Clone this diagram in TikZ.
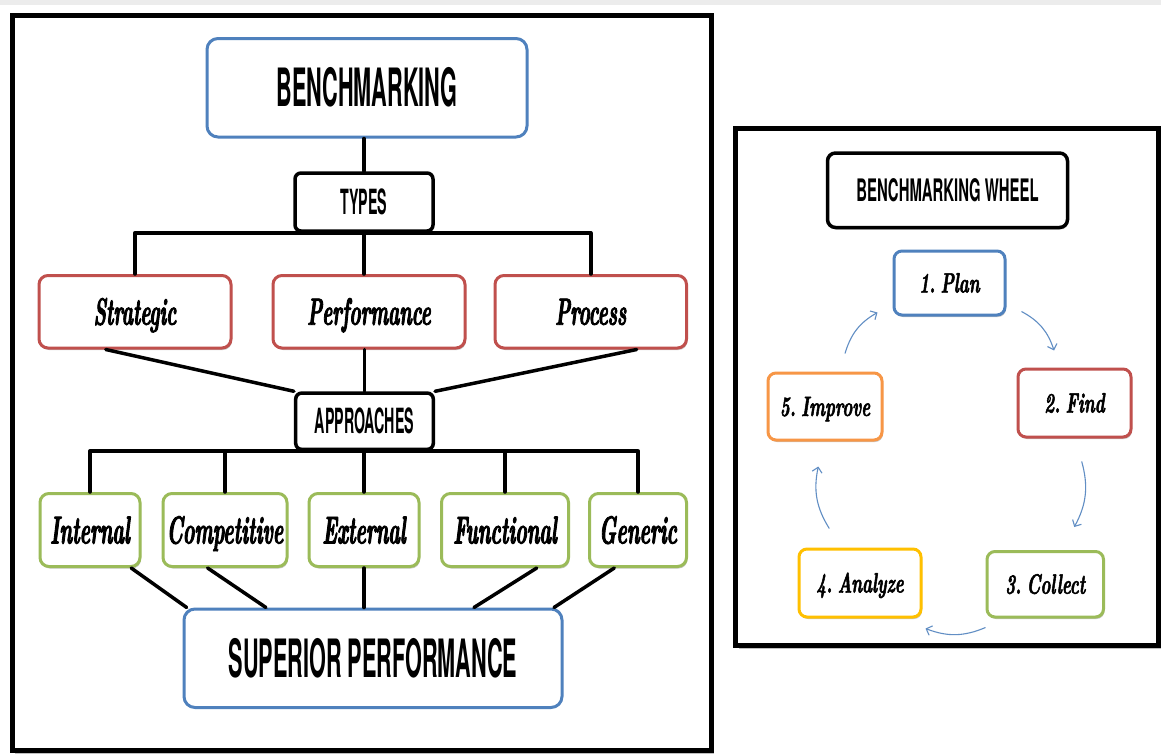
\documentclass[tikz,border=0pt]{standalone}
\usepackage{fontspec}
\usetikzlibrary{calc,arrows.meta,shadows}
\newfontfamily\headfont[FakeStretch=0.41]{TeX Gyre Heros}
\newfontfamily\lblfont[FakeStretch=0.5, FakeBold=2.2]{lmroman10-bolditalic.otf}
\newfontfamily\whlfont[FakeStretch=0.6, FakeBold=1.8, WordSpace=0.45]{lmroman10-bolditalic.otf}

\definecolor{cblue}{HTML}{4F81BD}
\definecolor{cred}{HTML}{C0504D}
\definecolor{cgreen}{HTML}{9BBB59}
\definecolor{corange}{HTML}{F79646}
\definecolor{cyellow}{HTML}{FFC000}
\definecolor{bandgray}{HTML}{ECECEC}

\tikzset{
  frame/.style={draw=black, line width=5pt, fill=white,
    drop shadow={shadow xshift=3pt, shadow yshift=-3pt, opacity=0.25, fill=black}},
  conn/.style={draw=black, line width=3.5pt, line join=round, line cap=round},
  box/.style={rectangle, rounded corners=9pt, fill=white, line width=3pt,
    inner sep=0pt, align=center, text depth=0pt},
  softshadow/.style={drop shadow={shadow xshift=1pt, shadow yshift=-2pt, opacity=0.22, fill=black}},
  bigbox/.style={box, draw=cblue, rounded corners=11pt, text height=38pt,
    font=\headfont\bfseries\fontsize{52.8}{56}\selectfont},
  midbox/.style={box, draw=black, line width=3.5pt, rounded corners=6pt, text height=25pt,
    font=\headfont\bfseries\fontsize{34.7}{38}\selectfont},
  typebox/.style={box, draw=cred, softshadow, minimum height=72.5pt, text height=26pt,
    font=\lblfont\fontsize{38}{40}\selectfont},
  apprbox/.style={box, draw=cgreen, softshadow, minimum height=73pt, text height=27pt,
    font=\lblfont\fontsize{39}{41}\selectfont},
  wheelbox/.style={box, softshadow, rounded corners=8pt, text height=19pt,
    font=\whlfont\fontsize{28}{30}\selectfont},
  cycle/.style={draw=cblue!90, line width=1.1pt, bend left=22,
    -{Straight Barb[length=5pt, width=10pt, line width=1.1pt]}}
}

\begin{document}
\begin{tikzpicture}[x=1pt, y=-1pt]
  \useasboundingbox (0,0) rectangle (1161,755);
  \fill[white] (0,0) rectangle (1161,755);
  \fill[bandgray] (0,0) rectangle (1161,5);

  % ---------- left panel: types and approaches ----------
  \path[frame] (12,15) rectangle (711,750.5);

  \node[bigbox, minimum width=320pt, minimum height=98.5pt] (bench) at (367,87.75) {BENCHMARKING};
  \node[midbox, minimum width=138pt, minimum height=58pt] (types) at (364,202) {TYPES};

  \node[typebox, minimum width=192pt] (strategic) at (135,311.75) {Strategic};
  \node[typebox, minimum width=192pt] (performance) at (369,311.75) {Performance};
  \node[typebox, minimum width=191.5pt] (process) at (590.75,311.75) {Process};

  \node[midbox, minimum width=137.6pt, minimum height=56.3pt] (approaches) at (364.5,421.2) {APPROACHES};

  \node[apprbox, minimum width=100pt] (internal) at (90,530) {Internal};
  \node[apprbox, minimum width=124pt] (competitive) at (225,530) {Competitive};
  \node[apprbox, minimum width=110pt] (external) at (364,530) {External};
  \node[apprbox, minimum width=127pt] (functional) at (505,530) {Functional};
  \node[apprbox, minimum width=97pt] (generic) at (638,530) {Generic};

  \node[bigbox, minimum width=378pt, minimum height=98.5pt] (superior) at (373,658.25) {SUPERIOR PERFORMANCE};

  % tree connectors
  \draw[conn] (types.north) -- (types.north |- bench.south);
  \draw[conn] (strategic.north) |- (types.south) -| (process.north);
  \draw[conn] (types.south) -- (types.south |- performance.north);

  \draw[conn] ($(strategic.south west)!0.35!(strategic.south east)$) -- (approaches.north west);
  \draw[conn] (approaches.north) -- (approaches.north |- performance.south);
  \draw[conn] ($(process.south west)!0.736!(process.south east)$) -- (approaches.north east);

  \draw[conn] (internal.north) |- (approaches.south) -| (generic.north);
  \draw[conn] (competitive.north) -- (competitive.north |- approaches.south);
  \draw[conn] (external.north) -- (external.north |- approaches.south);
  \draw[conn] (functional.north) -- (functional.north |- approaches.south);

  \draw[conn] ($(internal.south west)!0.9!(internal.south east)$) -- ($(superior.north west)!0.011!(superior.north east)$);
  \draw[conn] ($(competitive.south west)!0.363!(competitive.south east)$) -- ($(superior.north west)!0.219!(superior.north east)$);
  \draw[conn] (external.south) -- (external.south |- superior.north);
  \draw[conn] ($(functional.south west)!0.744!(functional.south east)$) -- ($(superior.north west)!0.765!(superior.north east)$);
  \draw[conn] ($(generic.south west)!0.263!(generic.south east)$) -- ($(superior.north west)!0.975!(superior.north east)$);

  % ---------- right panel: the benchmarking wheel ----------
  \path[frame] (735.5,128) rectangle (1158.5,645.8);

  \node[midbox, softshadow, rounded corners=8pt, minimum width=240pt, minimum height=74.5pt,
        text height=22.4pt, font=\headfont\bfseries\fontsize{31}{34}\selectfont\addfontfeature{FakeStretch=0.48}]
        (wheel) at (947.5,190.25) {BENCHMARKING WHEEL};

  \node[wheelbox, draw=cblue, minimum width=111pt, minimum height=64pt] (plan) at (949.5,283) {1. Plan};
  \node[wheelbox, draw=cred, minimum width=113pt, minimum height=68pt] (find) at (1074.5,403) {2. Find};
  \node[wheelbox, draw=cgreen, minimum width=116.5pt, minimum height=65.5pt] (collect) at (1045.25,584.25) {3. Collect};
  \node[wheelbox, draw=cyellow, minimum width=122pt, minimum height=68pt] (analyze) at (860,583) {4. Analyze};
  \node[wheelbox, draw=corange, minimum width=114pt, minimum height=67pt] (improve) at (825,406.5) {5. Improve};

  % free ends of the cycle arrows, kept clear of the boxes
  \coordinate (pf1) at ($(plan.south east)+(15,-5)$);
  \coordinate (pf2) at ($(find.north)+(-20.5,-17)$);
  \coordinate (fc1) at ($(find.south)+(7.2,23)$);
  \coordinate (fc2) at ($(collect.north)+(29,-23)$);
  \coordinate (ca1) at ($(collect.south west)+(0,9)$);
  \coordinate (ca2) at ($(analyze.south east)+(3,10)$);
  \coordinate (ai1) at ($(analyze.north)+(-30.7,-19)$);
  \coordinate (ai2) at ($(improve.south)+(-6.7,25)$);
  \coordinate (ip1) at ($(improve.north)+(20,-18)$);
  \coordinate (ip2) at ($(plan.south west)+(-15,-4)$);

  \draw[cycle] (pf1) to (pf2);
  \draw[cycle] (fc1) to (fc2);
  \draw[cycle] (ca1) to (ca2);
  \draw[cycle] (ai1) to (ai2);
  \draw[cycle] (ip1) to (ip2);
\end{tikzpicture}
\end{document}
